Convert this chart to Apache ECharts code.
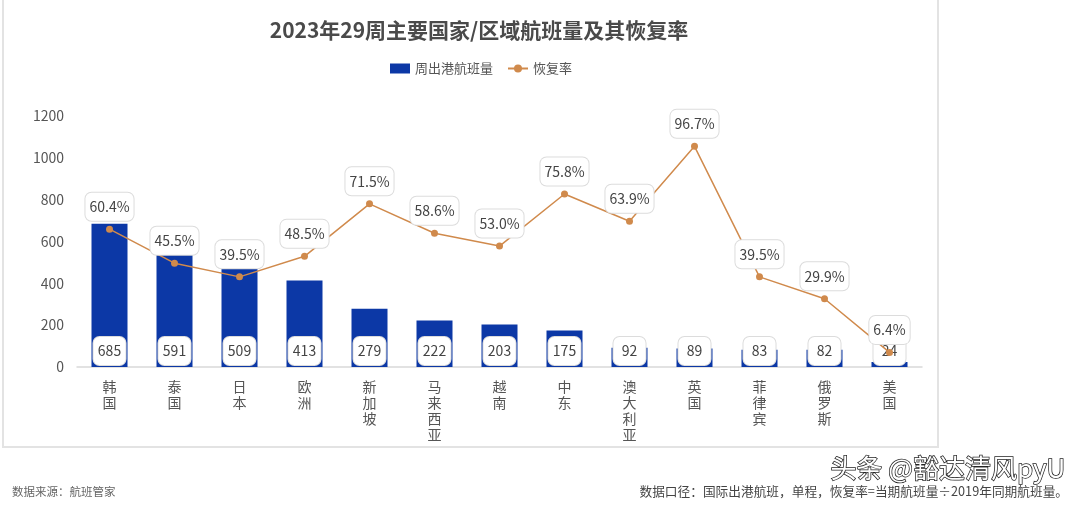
<!DOCTYPE html>
<html lang="zh">
<head>
    <meta charset="UTF-8">
    <title>2023年29周主要国家/区域航班量及其恢复率</title>
    <script src="https://cdn.jsdelivr.net/npm/echarts@6/dist/echarts.min.js"></script>
    <style>
        html, body { margin: 0; padding: 0; background: #fff; }
        #main { width: 1080px; height: 508px; }
    </style>
</head>
<body>
    <div id="main"></div>
</body>
<script>
    // 数据
    const regions = ['韩国', '泰国', '日本', '欧洲', '新加坡', '马来西亚', '越南', '中东', '澳大利亚', '英国', '菲律宾', '俄罗斯', '美国'];
    const flights = [685, 591, 509, 413, 279, 222, 203, 175, 92, 89, 83, 82, 24];
    const recovery = [60.4, 45.5, 39.5, 48.5, 71.5, 58.6, 53.0, 75.8, 63.9, 96.7, 39.5, 29.9, 6.4];
    const yTicks = [0, 200, 400, 600, 800, 1000, 1200];

    const font = 'Noto Sans CJK SC';
    const barColor = '#0c38a6';
    const lineColor = '#d08a4c';

    let chart = echarts.init(document.getElementById('main'));

    let option = {
        textStyle: { fontFamily: font },
        animation: false,
        title: {
            text: '2023年29周主要国家/区域航班量及其恢复率',
            left: 474,
            textAlign: 'center',
            top: 15,
            textStyle: { fontSize: 21, fontWeight: 'bold', color: '#4a4a4a', fontFamily: font }
        },
        legend: {
            left: 385,
            top: 57,
            itemWidth: 20,
            itemHeight: 10,
            itemGap: 14,
            textStyle: { fontSize: 13, color: '#555' },
            data: [
                { name: '周出港航班量', icon: 'rect' },
                { name: '恢复率' }
            ]
        },
        grid: {
            left: 77,
            right: 158,
            top: 116,
            bottom: 141,
            containLabel: false
        },
        xAxis: {
            type: 'category',
            data: regions,
            axisTick: { show: false },
            axisLine: { lineStyle: { color: '#d9d9d9', width: 1.5 } },
            axisLabel: {
                interval: 0,
                fontSize: 14,
                color: '#555',
                lineHeight: 16,
                margin: 12,
                formatter: function (v) { return v.split('').join('\n'); }
            }
        },
        yAxis: [
            {
                type: 'value',
                min: 0,
                max: 1200,
                interval: 200,
                splitLine: { show: false },
                axisLine: { show: false },
                axisTick: { show: false },
                axisLabel: {
                    fontSize: 14,
                    color: '#555',
                    margin: 13,
                    formatter: function (v) { return yTicks.indexOf(v) >= 0 ? String(v) : ''; }
                }
            },
            {
                type: 'value',
                min: 0,
                max: 110,
                show: false,
                splitLine: { show: false }
            }
        ],
        series: [
            {
                name: '周出港航班量',
                type: 'bar',
                data: flights,
                barWidth: 36,
                itemStyle: { color: barColor },
                label: {
                    show: true,
                    position: 'insideBottom',
                    distance: 2,
                    fontSize: 14,
                    color: '#444',
                    backgroundColor: '#fff',
                    borderColor: '#dcdcdc',
                    borderWidth: 1,
                    borderRadius: 6,
                    padding: [7, 5],
                    width: 22,
                    align: 'center'
                }
            },
            {
                name: '恢复率',
                type: 'line',
                yAxisIndex: 1,
                data: recovery,
                symbol: 'circle',
                symbolSize: 7,
                lineStyle: { color: lineColor, width: 1.5 },
                itemStyle: { color: lineColor },
                label: {
                    show: true,
                    position: 'top',
                    distance: 5,
                    fontSize: 14,
                    color: '#444',
                    backgroundColor: '#fff',
                    borderColor: '#dcdcdc',
                    borderWidth: 1,
                    borderRadius: 6,
                    padding: [7, 4],
                    formatter: function (p) { return p.value.toFixed(1) + '%'; }
                },
                z: 3
            }
        ],
        graphic: [
            {
                type: 'rect',
                shape: { x: 3, y: -2, width: 935, height: 449 },
                style: { fill: 'none', stroke: '#e3e3e3', lineWidth: 2 },
                z: -1
            },
            {
                type: 'text',
                left: 12,
                top: 486,
                style: { text: '数据来源：航班管家', fill: '#666', font: '11.5px "Noto Sans CJK SC"' }
            },
            {
                type: 'text',
                right: 12,
                top: 485,
                style: { text: '数据口径：国际出港航班，单程，恢复率=当期航班量÷2019年同期航班量。', fill: '#444', font: '12.7px "Noto Sans CJK SC"' }
            },
            {
                type: 'text',
                right: 14,
                top: 454,
                style: {
                    text: '头条 @豁达清风pyU',
                    fill: '#fff',
                    stroke: '#222',
                    lineWidth: 1.5,
                    font: '26px "Noto Sans CJK SC"'
                },
                z: 10
            }
        ]
    };

    chart.setOption(option);
</script>
</html>
